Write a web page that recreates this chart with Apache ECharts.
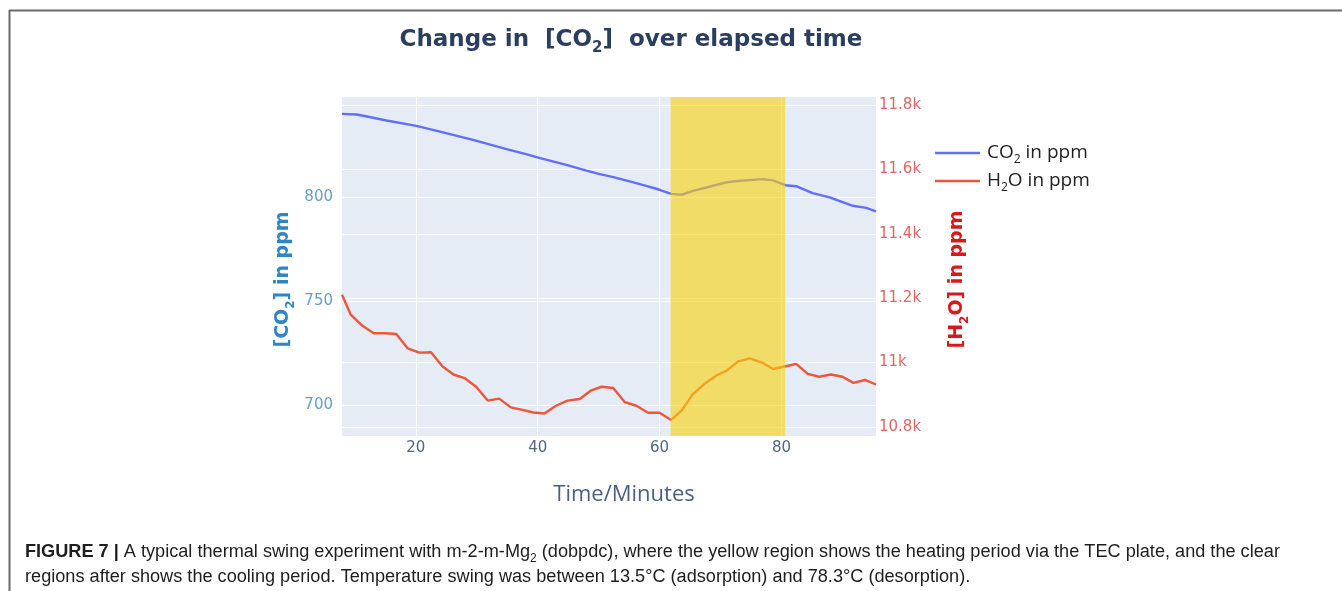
<!DOCTYPE html>
<html><head><meta charset="utf-8">
<script src="https://cdn.jsdelivr.net/npm/echarts@6/dist/echarts.min.js"></script>
<style>html,body{margin:0;padding:0;background:#fff}#c{width:1342px;height:591px}</style>
</head><body><div id="c"></div>
<script>
// ---- data ----
const co2Time   = [7.9, 10.3, 12.0, 15.2, 20.1, 22.8, 26.1, 29.4, 34.9, 38.1, 40.4, 44.7, 48.0, 50.2, 52.4, 55.1, 57.8, 60.0, 61.9, 63.6, 65.5, 67.7, 71.0, 73.2, 77.0, 78.6, 80.6, 82.4, 85.1, 87.9, 91.7, 93.9, 95.5];
const co2Values = [839.9, 839.6, 838.6, 836.7, 834.1, 832.2, 829.8, 827.4, 822.9, 820.5, 818.6, 815.4, 812.6, 810.9, 809.5, 807.4, 805.3, 803.4, 801.4, 801.0, 802.9, 804.5, 807.0, 807.7, 808.5, 807.9, 805.6, 805.1, 801.8, 799.7, 795.7, 794.7, 793.0];
const h2oTime   = [7.9, 9.3, 11.2, 13.1, 15.0, 16.8, 18.7, 20.6, 22.5, 24.4, 26.2, 28.0, 29.9, 31.8, 33.7, 35.6, 37.5, 39.3, 41.1, 43.0, 44.9, 46.9, 48.8, 50.5, 52.4, 54.3, 56.2, 58.1, 60.0, 61.9, 63.6, 65.5, 67.4, 69.3, 71.0, 72.9, 74.8, 76.7, 78.6, 80.5, 82.4, 84.3, 86.2, 88.1, 90.0, 91.8, 93.7, 95.5];
const h2oValues = [11211, 11150, 11115, 11091, 11091, 11089, 11044, 11031, 11032, 10988, 10963, 10952, 10925, 10882, 10888, 10861, 10853, 10845, 10842, 10866, 10882, 10887, 10914, 10925, 10921, 10877, 10866, 10844, 10844, 10822, 10851, 10903, 10934, 10960, 10975, 11004, 11013, 11001, 10980, 10988, 10996, 10965, 10956, 10963, 10956, 10937, 10946, 10932];
const xTicks   = [20, 40, 60, 80];
const co2Ticks = [700, 750, 800];
const h2oTicks = [10800, 11000, 11200, 11400, 11600, 11800];
const heatingPeriod = [61.8, 80.6];
const seriesNames = ['CO2 in ppm', 'H2O in ppm'];
// --------------------------------------

const zip = (a, b) => a.map((t, i) => [t, b[i]]);
const chart = echarts.init(document.getElementById('c'), null, {renderer: 'canvas'});

chart.setOption({
  animation: false,
  backgroundColor: '#ffffff',
  title: {
    text: 'Change in  [CO{sub|2}]  over elapsed time',
    left: 626, top: 19, textAlign: 'center',
    textStyle: {
      fontFamily: 'DejaVu Sans', fontWeight: 'bold', fontSize: 23, color: '#2a3f5f', lineHeight: 28,
      rich: {sub: {fontFamily: 'DejaVu Sans', fontWeight: 'bold', fontSize: 15, color: '#2a3f5f', lineHeight: 32, verticalAlign: 'bottom'}}
    }
  },
  legend: {
    orient: 'vertical', left: 930, top: 135, itemWidth: 45, itemHeight: 2.5, icon: 'rect', itemGap: 2,
    data: seriesNames,
    formatter: n => n === seriesNames[0] ? 'CO{sub|2} in ppm' : 'H{sub|2}O in ppm',
    textStyle: {
      fontFamily: 'Open Sans', fontSize: 19, color: '#222', lineHeight: 24, padding: [0, 0, 0, 2],
      rich: {sub: {fontFamily: 'Open Sans', fontSize: 12, color: '#222', lineHeight: 26, verticalAlign: 'bottom'}}
    }
  },
  grid: {left: 342, right: 466, top: 97, bottom: 155, show: true, backgroundColor: '#E5ECF6', borderWidth: 0, containLabel: false},
  xAxis: {
    type: 'value', min: 7.9, max: 95.5,
    axisLine: {show: false},
    axisTick: {show: false, customValues: xTicks},
    axisLabel: {customValues: xTicks, color: '#506784', fontFamily: 'DejaVu Sans', fontSize: 15, margin: 5},
    splitLine: {show: true, lineStyle: {color: '#ffffff', width: 1}},
    name: 'Time/Minutes', nameLocation: 'middle', nameGap: 59,
    nameTextStyle: {fontFamily: 'Open Sans', fontSize: 22, color: '#4b5f82', verticalAlign: 'middle', padding: [0, 0, 0, 30]}
  },
  yAxis: [
    {
      type: 'value', position: 'left', min: 685, max: 848,
      axisLine: {show: false},
      axisTick: {show: false, customValues: co2Ticks},
      axisLabel: {customValues: co2Ticks, color: '#64a0cd', fontFamily: 'DejaVu Sans', fontSize: 15, margin: 9},
      splitLine: {show: true, lineStyle: {color: '#ffffff', width: 1}},
      name: '[CO{sub|2}] in ppm', nameLocation: 'middle', nameGap: 59, nameRotate: 90,
      nameTextStyle: {
        fontFamily: 'DejaVu Sans', fontWeight: 'bold', fontSize: 19, color: '#2e86c8', verticalAlign: 'middle', lineHeight: 24,
        padding: [0, 26, 0, 0],
        rich: {sub: {fontFamily: 'DejaVu Sans', fontWeight: 'bold', fontSize: 12, color: '#2e86c8', lineHeight: 28, verticalAlign: 'bottom'}}
      }
    },
    {
      type: 'value', position: 'right', min: 10772, max: 11825,
      axisLine: {show: false},
      axisTick: {show: false, customValues: h2oTicks},
      axisLabel: {customValues: h2oTicks, color: '#e06666', fontFamily: 'DejaVu Sans', fontSize: 15, margin: 3,
        formatter: v => (+(v / 1000).toFixed(1)) + 'k'},
      splitLine: {show: true, lineStyle: {color: '#ffffff', width: 1}},
      name: '[H{sub|2}O] in ppm', nameLocation: 'middle', nameGap: 81, nameRotate: 90,
      nameTextStyle: {
        fontFamily: 'DejaVu Sans', fontWeight: 'bold', fontSize: 19, color: '#d7191e', verticalAlign: 'middle', lineHeight: 24,
        padding: [0, 26, 0, 0],
        rich: {sub: {fontFamily: 'DejaVu Sans', fontWeight: 'bold', fontSize: 12, color: '#d7191e', lineHeight: 28, verticalAlign: 'bottom'}}
      }
    }
  ],
  series: [
    {
      name: seriesNames[0], type: 'line', yAxisIndex: 0, data: zip(co2Time, co2Values),
      symbol: 'none', color: '#636EFA', lineStyle: {width: 2.4, color: '#636EFA'}, z: 2
    },
    {
      name: seriesNames[1], type: 'line', yAxisIndex: 1, data: zip(h2oTime, h2oValues),
      symbol: 'none', color: '#EF553B', lineStyle: {width: 2.4, color: '#EF553B'}, z: 2,
      markArea: {
        silent: true, z: 10,
        itemStyle: {color: 'rgba(250,210,10,0.6)', borderWidth: 0},
        data: [[{xAxis: heatingPeriod[0]}, {xAxis: heatingPeriod[1]}]]
      }
    }
  ],
  graphic: [
    {type: 'line', shape: {x1: 9, y1: 10.5, x2: 1342, y2: 10.5}, style: {stroke: '#6b6b6b', lineWidth: 2}},
    {type: 'line', shape: {x1: 9.5, y1: 10, x2: 9.5, y2: 591}, style: {stroke: '#6b6b6b', lineWidth: 2}},
    {type: 'text', x: 25, y: 552, style: {
      text: '{b|FIGURE 7 |} A typical thermal swing experiment with m-2-m-Mg{s|2} (dobpdc), where the yellow region shows the heating period via the TEC plate, and the clear',
      fontFamily: 'Liberation Sans', fontSize: 18.15, fill: '#1e1e1e', verticalAlign: 'middle', align: 'left',
      rich: {b: {fontFamily: 'Liberation Sans', fontSize: 18.15, fontWeight: 'bold', fill: '#1e1e1e'},
             s: {fontFamily: 'Liberation Sans', fontSize: 12, fill: '#1e1e1e', verticalAlign: 'bottom', lineHeight: 26}}
    }},
    {type: 'text', x: 25, y: 577, style: {
      text: 'regions after shows the cooling period. Temperature swing was between 13.5°C (adsorption) and 78.3°C (desorption).',
      fontFamily: 'Liberation Sans', fontSize: 18.15, fill: '#1e1e1e', verticalAlign: 'middle', align: 'left'
    }}
  ]
});
</script>
</body></html>
